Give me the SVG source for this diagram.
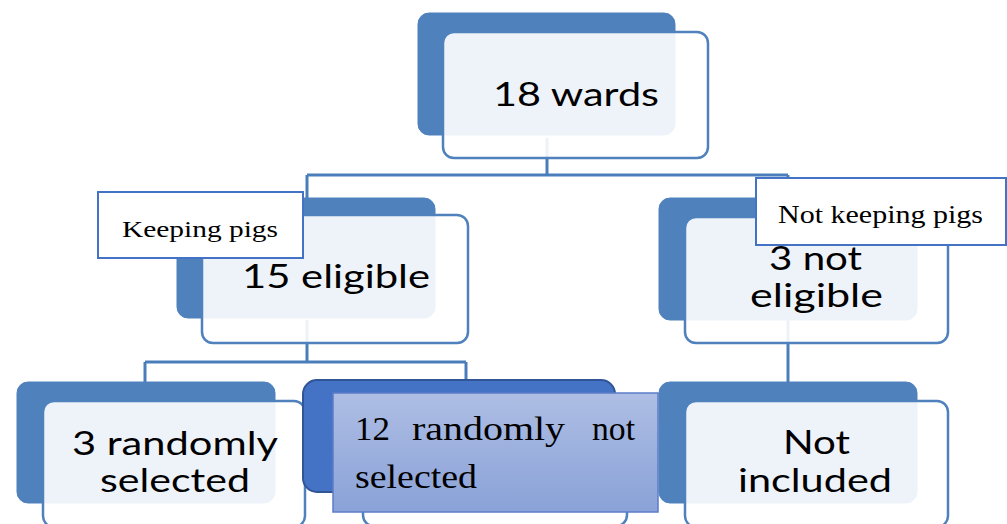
<svg xmlns="http://www.w3.org/2000/svg" width="1007" height="524" viewBox="0 0 1007 524">
<defs>
<linearGradient id="ov" x1="0" y1="0" x2="0" y2="1">
<stop offset="0" stop-color="#aebee4"/>
<stop offset="1" stop-color="#8aa2d8"/>
</linearGradient>
<style>
.back{fill:#4f81bd;stroke:#4f81bd;stroke-width:1}
.front{fill:#ffffff;fill-opacity:0.9;stroke:#4f81bd;stroke-width:2.5}
.conn{fill:none;stroke:#4a7ebb;stroke-width:3}
.lbl{fill:#ffffff;stroke:#4472c4;stroke-width:2}
.nt{font-family:Lato,"Liberation Sans",sans-serif;font-size:32px;fill:#000}
.st{font-family:"Liberation Serif","DejaVu Serif",serif;fill:#000}
</style>
</defs>
<rect width="1007" height="524" fill="#ffffff"/>
<g id="connectors">
<path class="conn" d="M547,138 V175 M307,175 H788 M307,175 V200 M788,175 V200"/>
<path class="conn" d="M307,320 V362 M145,362 H466 M145,362 V384 M466,362 V382"/>
<path class="conn" d="M788,320 V384"/>
</g>
<g id="node-18-wards">
<rect class="back" x="418" y="13" width="257" height="122" rx="11"/>
<rect class="front" x="443" y="32" width="265" height="126" rx="11"/>
<text class="nt" x="493" y="106" textLength="166" lengthAdjust="spacingAndGlyphs">18 wards</text>
</g>
<g id="node-15-eligible">
<rect class="back" x="177" y="198" width="258" height="120" rx="11"/>
<rect class="front" x="202" y="215" width="266" height="128" rx="11"/>
<text class="nt" x="242" y="288" textLength="188" lengthAdjust="spacingAndGlyphs">15 eligible</text>
</g>
<g id="label-keeping-pigs">
<rect class="lbl" x="98" y="192" width="205" height="66"/>
<text class="st" font-size="24" x="122" y="237" textLength="156" lengthAdjust="spacingAndGlyphs">Keeping pigs</text>
</g>
<g id="node-3-not-eligible">
<rect class="back" x="659" y="198" width="258" height="122" rx="11"/>
<rect class="front" x="685" y="217" width="263" height="126" rx="11"/>
<text class="nt" x="769" y="270" textLength="93" lengthAdjust="spacingAndGlyphs">3 not</text>
<text class="nt" x="750" y="307" textLength="133" lengthAdjust="spacingAndGlyphs">eligible</text>
</g>
<g id="label-not-keeping-pigs">
<rect class="lbl" x="756" y="178" width="250" height="67"/>
<text class="st" font-size="25" x="778" y="223" textLength="205" lengthAdjust="spacingAndGlyphs">Not keeping pigs</text>
</g>
<g id="node-3-randomly-selected">
<rect class="back" x="17" y="382" width="258" height="121" rx="11"/>
<rect class="front" x="43" y="401" width="262" height="126" rx="11"/>
<text class="nt" x="72" y="455" textLength="206" lengthAdjust="spacingAndGlyphs">3 randomly</text>
<text class="nt" x="100" y="492" textLength="150" lengthAdjust="spacingAndGlyphs">selected</text>
</g>
<g id="node-12-randomly-not-selected">
<rect x="303" y="380" width="312" height="112" rx="14" fill="#4472c4" stroke="#2f5597" stroke-width="2"/>
<rect class="front" x="363" y="400" width="264" height="126" rx="11"/>
<rect x="333" y="393" width="325" height="119" fill="url(#ov)" stroke="#5b7cc8" stroke-width="1.5"/>
<text class="st" font-size="33" x="355" y="440" textLength="35" lengthAdjust="spacingAndGlyphs">12</text>
<text class="st" font-size="33" x="412" y="440" textLength="153" lengthAdjust="spacingAndGlyphs">randomly</text>
<text class="st" font-size="33" x="592" y="440" textLength="43" lengthAdjust="spacingAndGlyphs">not</text>
<text class="st" font-size="33" x="355" y="488" textLength="122" lengthAdjust="spacingAndGlyphs">selected</text>
</g>
<g id="node-not-included">
<rect class="back" x="659" y="382" width="258" height="121" rx="11"/>
<rect class="front" x="685" y="401" width="263" height="126" rx="11"/>
<text class="nt" x="783" y="454" textLength="67" lengthAdjust="spacingAndGlyphs">Not</text>
<text class="nt" x="738" y="492" textLength="154" lengthAdjust="spacingAndGlyphs">included</text>
</g>
</svg>
